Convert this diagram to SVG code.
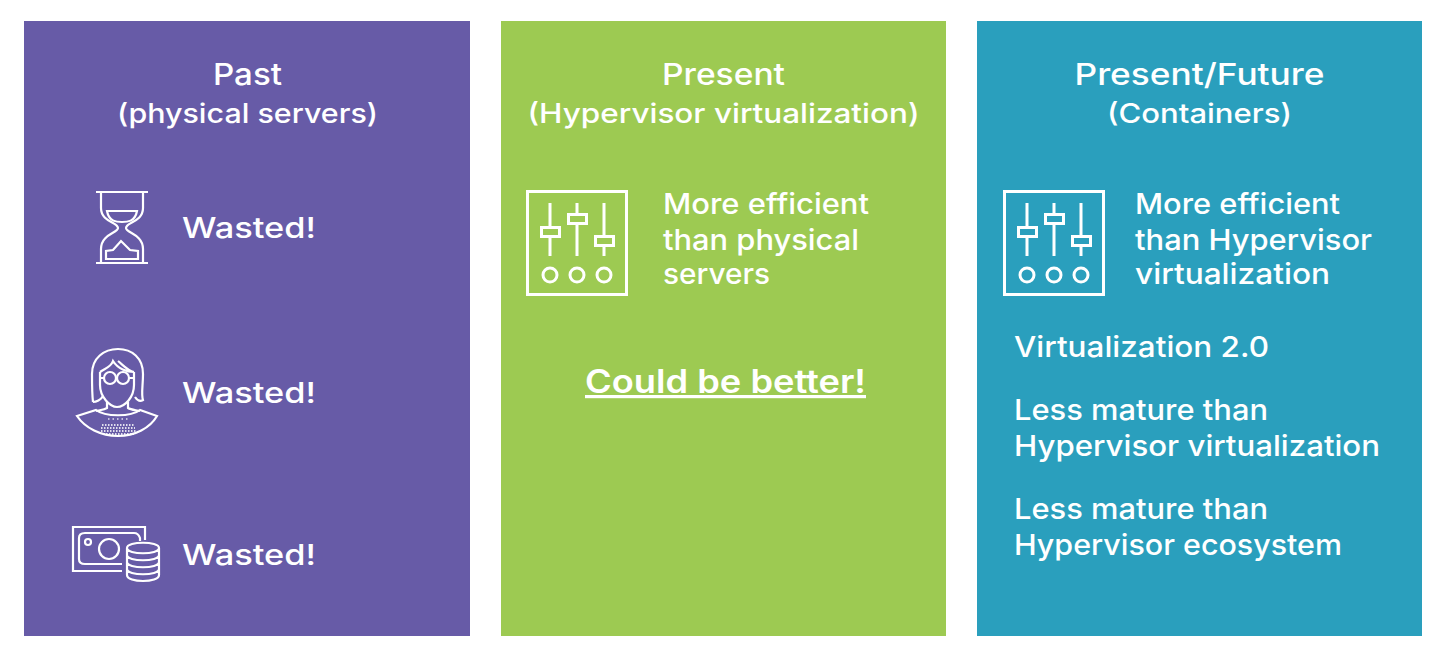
<svg xmlns="http://www.w3.org/2000/svg" width="1435" height="648" viewBox="0 0 1435 648">
<style>
text{font-family:"Inter","Noto Sans",sans-serif;fill:#fff;font-weight:500}
.h{font-size:30px;text-anchor:middle}
.s{font-size:27px;text-anchor:middle}
.b{font-size:29px}
.i{fill:none;stroke:#fff;stroke-width:2.200}
.t{fill:none;stroke:#fff;stroke-width:3}
</style>
<defs>
<g id="mixer">
<rect class="t" x="0.500" y="0.500" width="99" height="103"/>
<path class="t" d="M23 12V36M23 46V65M50 12V23M50 33V65M77 12V45M77 55V65"/>
<rect class="t" x="14.500" y="36.500" width="18" height="9"/>
<rect class="t" x="41.500" y="23.500" width="18" height="9"/>
<rect class="t" x="68.500" y="45.500" width="18" height="9"/>
<circle class="t" cx="23" cy="84" r="7"/>
<circle class="t" cx="50" cy="84" r="7"/>
<circle class="t" cx="77" cy="84" r="7"/>
</g>
</defs>
<rect width="1435" height="648" fill="#fff"/>
<g id="panel-past">
<rect x="24" y="21" width="446" height="615" fill="#675ba7"/>
<text class="h" x="247.500" y="85" textLength="69" lengthAdjust="spacingAndGlyphs">Past</text>
<text class="s" x="247.500" y="123" textLength="261" lengthAdjust="spacingAndGlyphs">(physical servers)</text>
<g id="icon-hourglass">
<path class="i" d="M96 192H148M96 263H148"/>
<path class="i" d="M101 192V208C101 222 118 222 118 228C118 233 101 234 101 249V263M143 192V208C143 222 126 222 126 228C126 233 143 234 143 249V263"/>
<path class="i" d="M107 211H137C135 222 127 222 122 222C117 222 109 222 107 211Z"/>
<path class="i" d="M106 259V251L113 250L121 241L130 250L138 251V259Z"/>
</g>
<text class="b" x="182" y="238" textLength="134" lengthAdjust="spacingAndGlyphs">Wasted!</text>
<g id="icon-person">
<path class="i" d="M93 402C92 394 92 386 92 374C92 358 104 349 118 349C132 349 143 358 143 374C143 386 141 394 143 400C140 402 137 400 135 397M93 402C96 402 101 400 103 396"/>
<path class="i" d="M100 372C106 368 111 367 113 361C118 369 127 372 134 372M118 361C123 365 128 371 134 372"/>
<path class="i" d="M100 372V385C100 397 110 407 117 407C125 407 134 397 134 385V372"/>
<circle class="i" cx="110" cy="378" r="6"/><circle class="i" cx="123" cy="378" r="6"/>
<path class="i" d="M100 378H104M116 378H117M129 378H134"/>
<path class="i" d="M107 402V408C104 410 100 410 96 411M128 402V408C131 410 136 410 140 411"/>
<path class="i" d="M77 416L96 410C105 417 131 417 140 410L157 416C150 428 135 436 118 436C101 436 85 428 77 416Z"/>
<path d="M102 425H134M101 428H135M101 431H136M103 434H134" stroke="#fff" stroke-width="2" stroke-dasharray="1.500 1.500" fill="none" opacity=".8"/>
<path d="M108 419H128" stroke="#fff" stroke-width="1.500" stroke-dasharray="1.500 3" fill="none" opacity=".8"/>
</g>
<text class="b" x="182" y="403" textLength="134" lengthAdjust="spacingAndGlyphs">Wasted!</text>
<g id="icon-money">
<path class="i" d="M122 571H73V527H145V540"/>
<path class="i" d="M122 564H85C81 564 79 562 79 559V538C79 535 81 533 85 533H134C137 533 139 535 140 538V541"/>
<circle class="i" cx="88" cy="542" r="3"/>
<circle class="i" cx="109" cy="549" r="10"/>
<path class="i" d="M127 548C127 541 159 541 159 548V575C159 583 127 583 127 575ZM127 548C127 555 159 555 159 548M127 555C127 562 159 562 159 555M127 562C127 569 159 569 159 562M127 569C127 576 159 576 159 569"/>
</g>
<text class="b" x="182" y="565" textLength="134" lengthAdjust="spacingAndGlyphs">Wasted!</text>
</g>
<g id="panel-present">
<rect x="501" y="21" width="445" height="615" fill="#9dca52"/>
<text class="h" x="723.500" y="85" textLength="123" lengthAdjust="spacingAndGlyphs">Present</text>
<text class="s" x="723.500" y="123" textLength="392" lengthAdjust="spacingAndGlyphs">(Hypervisor virtualization)</text>
<use href="#mixer" x="527" y="191"/>
<text class="b" x="663" y="214" textLength="206" lengthAdjust="spacingAndGlyphs">More efficient</text>
<text class="b" x="663" y="250" textLength="196" lengthAdjust="spacingAndGlyphs">than physical</text>
<text class="b" x="663" y="284" textLength="107" lengthAdjust="spacingAndGlyphs">servers</text>
<text x="585" y="393" font-size="32" style="font-weight:600" text-decoration="underline" textLength="281" lengthAdjust="spacingAndGlyphs">Could be better!</text>
</g>
<g id="panel-future">
<rect x="977" y="21" width="445" height="615" fill="#2a9fbd"/>
<text class="h" x="1199.500" y="85" textLength="250" lengthAdjust="spacingAndGlyphs">Present/Future</text>
<text class="s" x="1199.500" y="123" textLength="185" lengthAdjust="spacingAndGlyphs">(Containers)</text>
<use href="#mixer" x="1004" y="191"/>
<text class="b" x="1135" y="214" textLength="205" lengthAdjust="spacingAndGlyphs">More efficient</text>
<text class="b" x="1135" y="250" textLength="237" lengthAdjust="spacingAndGlyphs">than Hypervisor</text>
<text class="b" x="1135" y="284" textLength="195" lengthAdjust="spacingAndGlyphs">virtualization</text>
<text class="b" x="1014" y="357" textLength="255" lengthAdjust="spacingAndGlyphs">Virtualization 2.0</text>
<text class="b" x="1014" y="420" textLength="254" lengthAdjust="spacingAndGlyphs">Less mature than</text>
<text class="b" x="1014" y="456" textLength="366" lengthAdjust="spacingAndGlyphs">Hypervisor virtualization</text>
<text class="b" x="1014" y="519" textLength="254" lengthAdjust="spacingAndGlyphs">Less mature than</text>
<text class="b" x="1014" y="555" textLength="328" lengthAdjust="spacingAndGlyphs">Hypervisor ecosystem</text>
</g>
</svg>
